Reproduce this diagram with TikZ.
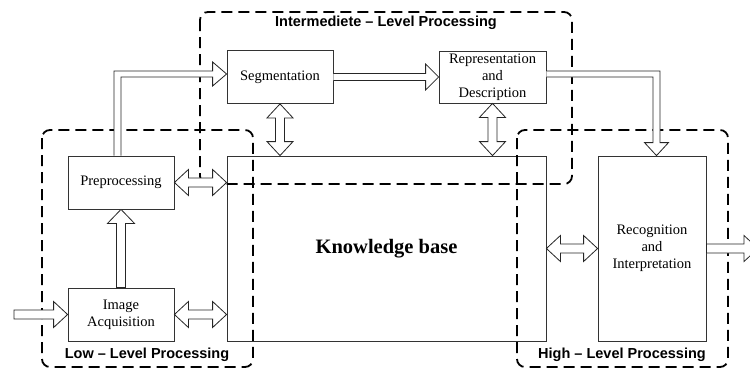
\documentclass[tikz,border=0pt]{standalone}
\usepackage{fontspec}
\setmainfont{Liberation Serif}
\setsansfont{Liberation Sans}
\usetikzlibrary{calc}

\tikzset{
  block/.style={draw=black!80, line width=0.8pt, inner sep=0pt, align=center,
    font=\fontsize{14.5}{17}\selectfont},
  stage/.style={draw=black, line width=1.8pt, dash pattern=on 11pt off 6pt,
    rounded corners=8pt},
  stagelabel/.style={font=\sffamily\bfseries\fontsize{14.5}{17}\selectfont},
  hollow/.style={draw=black!85, line width=0.8pt, fill=white, line join=miter},
}

% horizontal two-headed hollow arrow between two points at the same height
\newcommand\hbothways[2]{%
  \draw[hollow] let \p1=(#1), \p2=(#2) in
    (\x1,\y1) -- (\x1+14pt,\y1+13pt) -- (\x1+14pt,\y1+4.5pt)
    -- (\x2-14pt,\y1+4.5pt) -- (\x2-14pt,\y1+13pt) -- (\x2,\y1)
    -- (\x2-14pt,\y1-13pt) -- (\x2-14pt,\y1-4.5pt)
    -- (\x1+14pt,\y1-4.5pt) -- (\x1+14pt,\y1-13pt) -- cycle;}
% vertical two-headed hollow arrow, #1 above #2
\newcommand\vbothways[2]{%
  \draw[hollow] let \p1=(#1), \p2=(#2) in
    (\x1,\y1) -- (\x1+13pt,\y1-14pt) -- (\x1+4.5pt,\y1-14pt)
    -- (\x1+4.5pt,\y2+14pt) -- (\x1+13pt,\y2+14pt) -- (\x1,\y2)
    -- (\x1-13pt,\y2+14pt) -- (\x1-4.5pt,\y2+14pt)
    -- (\x1-4.5pt,\y1-14pt) -- (\x1-13pt,\y1-14pt) -- cycle;}
% horizontal one-headed hollow arrow, pointing right
\newcommand\hright[2]{%
  \draw[hollow] let \p1=(#1), \p2=(#2) in
    (\x1,\y1+4.5pt) -- (\x2-14pt,\y1+4.5pt) -- (\x2-14pt,\y1+13pt) -- (\x2,\y1)
    -- (\x2-14pt,\y1-13pt) -- (\x2-14pt,\y1-4.5pt) -- (\x1,\y1-4.5pt) -- cycle;}

\begin{document}
\begin{tikzpicture}[x=1pt, y=-1pt]
\useasboundingbox (0,0) rectangle (750,367);

% processing blocks
\node[block, minimum width=106pt, minimum height=53pt] (seg) at (280,77) {Segmentation};
\node[block, minimum width=107pt, minimum height=52pt] (rep) at (492.5,77)
  {Representation\\and\\Description};
\node[block, minimum width=106pt, minimum height=53pt] (pre) at (121,182.5) {Preprocessing};
\node[block, minimum width=106pt, minimum height=53pt] (img) at (121,314.5)
  {Image\\Acquisition};
\node[block, minimum width=319pt, minimum height=185pt,
  font=\bfseries\fontsize{20.5}{24}\selectfont] (kb) at (386.5,248.5) {Knowledge base};
\node[block, minimum width=108pt, minimum height=185pt] (rec) at (652,248.5)
  {Recognition\\and\\Interpretation};

\coordinate (in) at (14,314.5);
\coordinate (out) at (758,248.5);

% processing stages (the lower two run to the bottom edge)
\draw[stage] (200,12) rectangle (572,184);
\draw[stage] (42,130) rectangle (253,367);
\draw[stage] (517,130) rectangle (728,367);
\node[stagelabel] (lmid) at (386,23) {Intermediete -- Level Processing};
\node[stagelabel] (llow) at (147,355) {Low -- Level Processing};
\node[stagelabel] (lhigh) at (622,355) {High -- Level Processing};

% data flow
\hright{in}{img.west}
\draw[hollow] let \p1=(img.north), \p2=(pre.south) in
  (\x1-4.5pt,\y1) -- (\x1-4.5pt,\y2-14pt) -- (\x1-13.5pt,\y2-14pt) -- (\x1,\y2)
  -- (\x1+13.5pt,\y2-14pt) -- (\x1+4.5pt,\y2-14pt) -- (\x1+4.5pt,\y1) -- cycle;
% preprocessing up to segmentation
\draw[hollow] let \p1=(pre.north), \p2=(seg.west) in
  (\x1-7pt,\y1) -- (\x1-7pt,\y2+6pt) -- (\x2-14pt,\y2+6pt) -- (\x2-14pt,\y2+15pt)
  -- (\x2,\y2+3pt) -- (\x2-14pt,\y2-9pt) -- (\x2-14pt,\y2) -- (\x1,\y2) -- (\x1,\y1);
% segmentation to representation
\draw[hollow] let \p1=(seg.east), \p2=(rep.west) in
  (\x1,\y1+3.5pt) -- (\x2-13pt,\y1+3.5pt) -- (\x2-13pt,\y1+13pt) -- (\x2,\y1)
  -- (\x2-13pt,\y1-13pt) -- (\x2-13pt,\y1-3.5pt) -- (\x1,\y1-3.5pt);
% representation down to recognition
\draw[hollow] let \p1=(rep.east), \p2=(rec.north) in
  (\x1,\y1+6pt) -- (\x2+8pt,\y1+6pt) -- (\x2+8pt,\y2+13pt) -- (\x2+16.5pt,\y2+13pt)
  -- (\x2+4.5pt,\y2) -- (\x2-7.5pt,\y2+13pt) -- (\x2+1pt,\y2+13pt)
  -- (\x2+1pt,\y1) -- (\x1,\y1);

% exchanges with the knowledge base
\hbothways{pre.east}{pre.east -| kb.west}
\hbothways{img.east}{img.east -| kb.west}
\vbothways{seg.south}{seg.south |- kb.north}
\vbothways{rep.south}{rep.south |- kb.north}
\hbothways{kb.east}{rec.west}
\hright{rec.east}{out}
\end{tikzpicture}
\end{document}
